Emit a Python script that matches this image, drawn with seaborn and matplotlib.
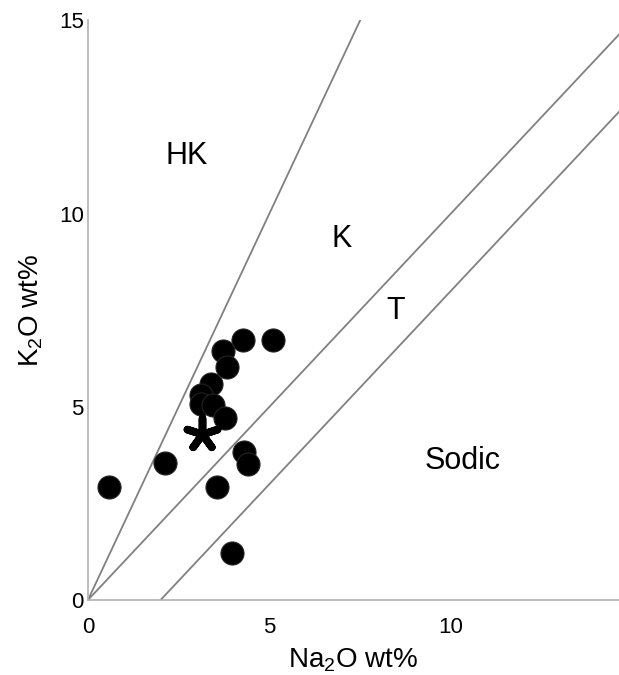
import pandas as pd
import matplotlib
matplotlib.use('Agg')
import matplotlib.pyplot as plt
import seaborn as sns

# sample compositions (wt%)
na2o = [4.27, 5.10, 3.72, 3.83, 3.39, 3.11, 3.11, 3.44, 3.77, 4.30, 4.41, 2.12, 0.58, 3.55, 3.97]
k2o = [6.72, 6.72, 6.44, 6.03, 5.59, 5.30, 5.07, 5.04, 4.71, 3.83, 3.52, 3.54, 2.92, 2.92, 1.22]

# average composition (asterisk)
avg_na2o = [3.14]
avg_k2o = [4.30]

# field boundaries
hk_x = [0, 7.5]
hk_y = [0, 15]
kt_x = [0, 15]
kt_y = [0, 15]
ts_x = [2, 17]
ts_y = [0, 15]

fields = ['HK', 'K', 'T', 'Sodic']
field_x = [2.73, 7.0, 8.48, 10.33]
field_y = [11.48, 9.34, 7.47, 3.59]

sns.set_style('white')
plt.rcParams['font.family'] = ['Liberation Sans', 'DejaVu Sans']
plt.rcParams['mathtext.fontset'] = 'custom'
plt.rcParams['mathtext.rm'] = 'Liberation Sans'
plt.rcParams['text.color'] = 'black'
plt.rcParams['axes.labelcolor'] = 'black'
plt.rcParams['xtick.color'] = 'black'
plt.rcParams['ytick.color'] = 'black'

fig = plt.figure(figsize=(6.19, 6.75), dpi=100)
ax = fig.add_axes([0.142, 0.111, 0.858, 0.859])

for bx, by in [(hk_x, hk_y), (kt_x, kt_y), (ts_x, ts_y)]:
    sns.lineplot(x=bx, y=by, ax=ax, color='#808080', linewidth=1.3, zorder=1)

df = pd.DataFrame({'Na2O': na2o, 'K2O': k2o})
sns.scatterplot(data=df, x='Na2O', y='K2O', ax=ax, s=275, color='black',
                edgecolor='#222222', linewidth=0.8, zorder=3)
sns.scatterplot(x=avg_na2o, y=avg_k2o, ax=ax, marker=(5, 2, 0), s=520,
                color='black', edgecolor='black', linewidth=5.5, zorder=4)

for name, fx, fy in zip(fields, field_x, field_y):
    ax.text(fx, fy, name, fontsize=22, ha='center', va='center', color='black')

ax.set_xlim(0, 14.63)
ax.set_ylim(0, 15)
ax.set_xticks([0, 5, 10])
ax.set_yticks([0, 5, 10, 15])
ax.tick_params(axis='x', direction='in', length=11, width=1, color='#999999',
               labelsize=16, labelcolor='black', pad=12)
ax.tick_params(axis='y', length=0, labelsize=16, labelcolor='black', pad=3)
ax.set_xlabel(r'Na$_2$O wt%', fontsize=20, labelpad=6)
ax.set_ylabel(r'K$_2$O wt%', fontsize=20, labelpad=10)

sns.despine(ax=ax)
for side in ['left', 'bottom']:
    ax.spines[side].set_color('#b0b0b0')
    ax.spines[side].set_linewidth(1.2)

fig.savefig('out.png', dpi=100)
